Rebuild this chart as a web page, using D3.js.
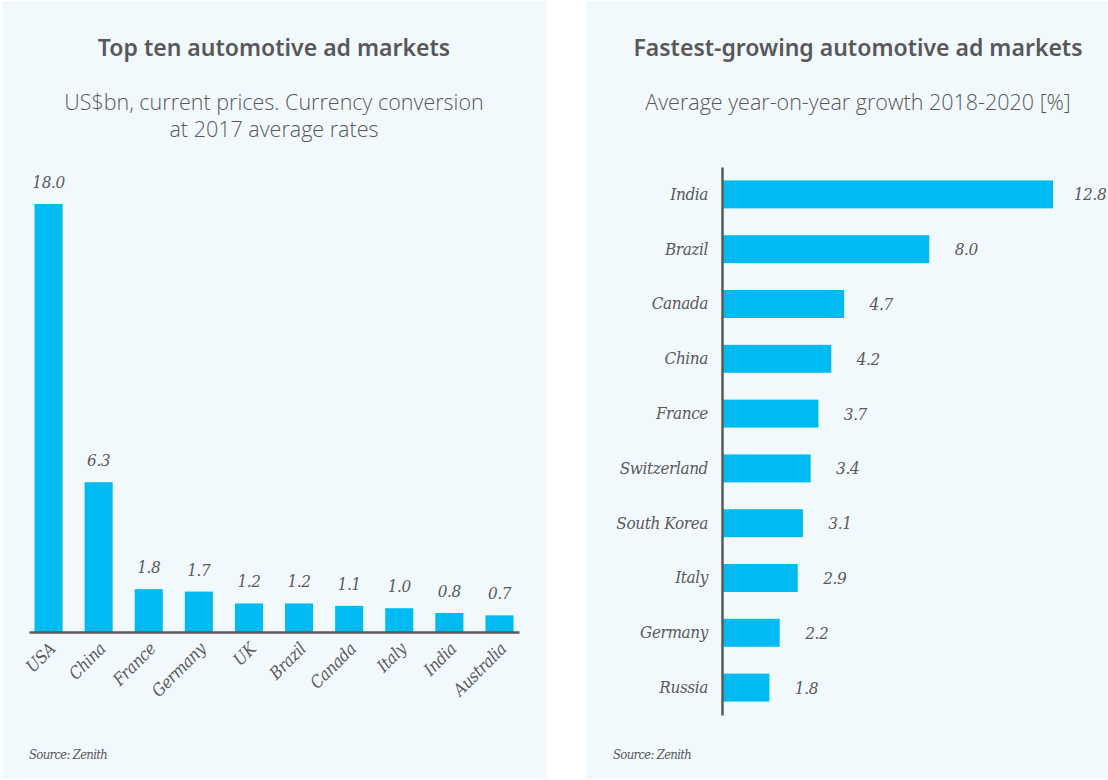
<!DOCTYPE html>
<html>
<head>
<meta charset="utf-8">
<script src="https://cdn.jsdelivr.net/npm/d3@7"></script>
<style>
  body { margin: 0; background: #fff; }
  svg { display: block; }
  .title { font-family: 'Noto Sans', sans-serif; font-weight: 600; font-size: 23px; fill: #58585a; }
  .sub { font-family: 'Open Sans', sans-serif; font-weight: 300; font-size: 21.5px; fill: #58585a; }
  .lbl { font-family: 'DejaVu Serif', serif; font-style: italic; font-stretch: condensed; font-size: 17px; fill: #5a5a5c; letter-spacing: -0.4px; }
  .src { font-family: 'DejaVu Serif', serif; font-style: italic; font-stretch: condensed; font-size: 13px; fill: #58585a; letter-spacing: -0.7px; }
</style>
</head>
<body>
<div id="chart"></div>
<script>
// left chart: top ten markets, US$bn
const topMarkets = ['USA', 'China', 'France', 'Germany', 'UK', 'Brazil', 'Canada', 'Italy', 'India', 'Australia']
const topValues = [18.0, 6.3, 1.8, 1.7, 1.2, 1.2, 1.1, 1.0, 0.8, 0.7]

// right chart: fastest growing, avg yoy growth %
const growthMarkets = ['India', 'Brazil', 'Canada', 'China', 'France', 'Switzerland', 'South Korea', 'Italy', 'Germany', 'Russia']
const growthValues = [12.8, 8.0, 4.7, 4.2, 3.7, 3.4, 3.1, 2.9, 2.2, 1.8]

const width = 1108, height = 780
const barColor = '#00bbf1'
const panelColor = '#f2f9fd'
const inkColor = '#58585a'

const svg = d3.select('#chart')
  .append('svg')
  .attr('width', width)
  .attr('height', height)

// panels
svg.append('rect').attr('x', 2).attr('y', 1).attr('width', 545).attr('height', 778).attr('fill', panelColor)
svg.append('rect').attr('x', 586).attr('y', 1).attr('width', 522).attr('height', 778).attr('fill', panelColor)

// ---------- left chart ----------
svg.append('text').attr('class', 'title').attr('x', 274).attr('y', 56).attr('text-anchor', 'middle')
  .text('Top ten automotive ad markets')
svg.append('text').attr('class', 'sub').attr('x', 274).attr('y', 110).attr('text-anchor', 'middle')
  .text('US$bn, current prices. Currency conversion')
svg.append('text').attr('class', 'sub').attr('x', 274).attr('y', 137).attr('text-anchor', 'middle')
  .text('at 2017 average rates')

const xBand = d3.scaleBand()
  .domain(topMarkets)
  .range([29, 519])
  .paddingInner(0.44)
  .paddingOuter(0.11)

const yLin = d3.scaleLinear()
  .domain([0, 18])
  .range([632, 204])

const left = svg.append('g')

left.selectAll('rect.bar')
  .data(topValues)
  .enter()
  .append('rect')
  .attr('class', 'bar')
  .attr('fill', barColor)
  .attr('x', (d, i) => xBand(topMarkets[i]))
  .attr('y', d => yLin(d))
  .attr('width', xBand.bandwidth())
  .attr('height', d => yLin(0) - yLin(d))

left.selectAll('text.val')
  .data(topValues)
  .enter()
  .append('text')
  .attr('class', 'lbl val')
  .attr('text-anchor', 'middle')
  .attr('x', (d, i) => xBand(topMarkets[i]) + xBand.bandwidth() / 2)
  .attr('y', d => yLin(d) - 16)
  .text(d => d.toFixed(1))

// x axis, drawn with d3 axis then styled
const xAxis = d3.axisBottom(xBand).tickSize(0).tickSizeOuter(0)
const gx = left.append('g')
  .attr('transform', 'translate(0,' + yLin(0) + ')')
  .call(xAxis)
gx.select('.domain').attr('stroke', inkColor).attr('stroke-width', 2.5)
gx.selectAll('text')
  .attr('class', 'lbl')
  .attr('text-anchor', 'end')
  .attr('dy', null)
  .attr('y', 0)
  .attr('transform', 'translate(8,18) rotate(-45)')

svg.append('text').attr('class', 'src').attr('x', 29).attr('y', 759).text('Source: Zenith')

// ---------- right chart ----------
svg.append('text').attr('class', 'title').attr('x', 858).attr('y', 56).attr('text-anchor', 'middle')
  .text('Fastest-growing automotive ad markets')
svg.append('text').attr('class', 'sub').attr('x', 858).attr('y', 110).attr('text-anchor', 'middle')
  .text('Average year-on-year growth 2018-2020 [%]')

const yBand = d3.scaleBand()
  .domain(growthMarkets)
  .range([167, 715])
  .paddingInner(0.49)
  .paddingOuter(0.245)

const xLin = d3.scaleLinear()
  .domain([0, 12.8])
  .range([723, 1053])

const right = svg.append('g')

right.selectAll('rect.bar')
  .data(growthValues)
  .enter()
  .append('rect')
  .attr('class', 'bar')
  .attr('fill', barColor)
  .attr('x', xLin(0))
  .attr('y', (d, i) => yBand(growthMarkets[i]))
  .attr('width', d => xLin(d) - xLin(0))
  .attr('height', yBand.bandwidth())

right.selectAll('text.val')
  .data(growthValues)
  .enter()
  .append('text')
  .attr('class', 'lbl val')
  .attr('text-anchor', 'middle')
  .attr('x', d => xLin(d) + 37)
  .attr('y', (d, i) => yBand(growthMarkets[i]) + yBand.bandwidth() / 2)
  .attr('dy', '0.35em')
  .text(d => d.toFixed(1))

const yAxis = d3.axisLeft(yBand).tickSize(0).tickSizeOuter(0).tickPadding(14)
const gy = right.append('g')
  .attr('transform', 'translate(' + (xLin(0) - 1) + ',0)')
  .call(yAxis)
gy.select('.domain').attr('stroke', inkColor).attr('stroke-width', 2.5)
gy.selectAll('text').attr('class', 'lbl')

svg.append('text').attr('class', 'src').attr('x', 613).attr('y', 759).text('Source: Zenith')
</script>
</body>
</html>
